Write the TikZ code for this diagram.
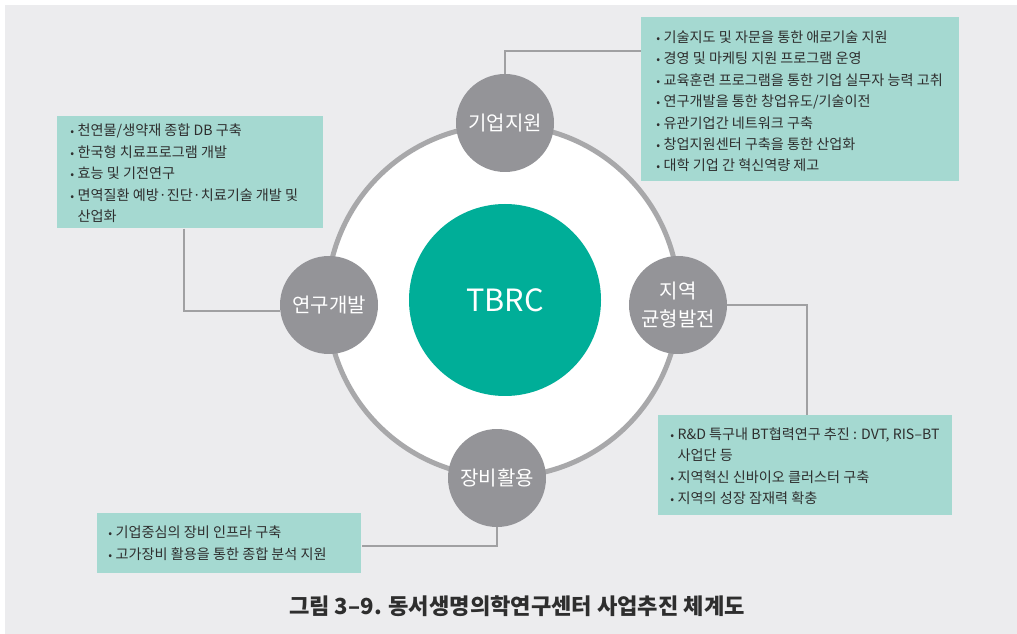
\documentclass[tikz,border=0pt]{standalone}
\usepackage{fontspec}
\setmainfont{Noto Sans CJK KR}
\usetikzlibrary{calc}
\definecolor{bgc}{HTML}{ECECEE}
\definecolor{boxc}{HTML}{A5D9D1}
\definecolor{cgray}{HTML}{949498}
\definecolor{ringc}{HTML}{A8A8AA}
\definecolor{tealc}{HTML}{00AE98}
\definecolor{linec}{HTML}{A0A0A2}
\definecolor{txtc}{HTML}{2E2E2E}
\newcommand\itm{\makebox[5.6pt][l]{\scalebox{0.8}{•}}}
\newcommand\cnt{\hspace*{5.6pt}}
\begin{document}
\begin{tikzpicture}[x=0.75pt,y=-0.75pt,
  box/.style={rectangle, fill=boxc, inner sep=0pt, anchor=north west},
  boxtext/.style={anchor=west, align=left, inner sep=0pt, text=txtc, font=\fontsize{10.6pt}{16.1pt}\selectfont},
  sc/.style={circle, fill=cgray, minimum size=73.5pt, inner sep=0pt, text=white, align=center, font=\fontsize{15pt}{21.7pt}\selectfont},
  conn/.style={draw=linec, line width=1.2pt}]
\useasboundingbox (0,0) rectangle (1017,634);
\fill[white] (0,0) rectangle (1017,634);
\fill[bgc] (5,5) rectangle (1017,634);

% boxes
\node[box, minimum width=238.5pt, minimum height=123pt] (tr) at (641,17) {};
\node[boxtext] (trt) at ($(tr.west)+(15,2)$) {\itm 기술지도 및 자문을 통한 애로기술 지원\\
\itm 경영 및 마케팅 지원 프로그램 운영\\
\itm 교육훈련 프로그램을 통한 기업 실무자 능력 고취\\
\itm 연구개발을 통한 창업유도/기술이전\\
\itm 유관기업간 네트워크 구축\\
\itm 창업지원센터 구축을 통한 산업화\\
\itm 대학 기업 간 혁신역량 제고};

\node[box, minimum width=199.5pt, minimum height=84pt] (lb) at (57,116) {};
\node[boxtext] (lbt) at ($(lb.west)+(13,1)$) {\itm 천연물/생약재 종합 DB 구축\\
\itm 한국형 치료프로그램 개발\\
\itm 효능 및 기전연구\\
\itm 면역질환 예방·진단·치료기술 개발 및\\
\cnt 산업화};

\node[box, minimum width=220.5pt, minimum height=75pt] (br) at (658,415) {};
\node[boxtext] (brt) at ($(br.west)+(12,1)$) {\itm R\&D 특구내 BT협력연구 추진 : DVT, RIS–BT\\
\cnt 사업단 등\\
\itm 지역혁신 신바이오 클러스터 구축\\
\itm 지역의 성장 잠재력 확충};

\node[box, minimum width=198pt, minimum height=45pt] (bl) at (97,513) {};
\node[boxtext] (blt) at ($(bl.west)+(11,0)$) {\itm 기업중심의 장비 인프라 구축\\
\itm 고가장비 활용을 통한 종합 분석 지원};

% ring and centre
\node[circle, draw=ringc, line width=3.75pt, fill=white, minimum size=264pt, inner sep=0pt] (ring) at (503,301) {};
\node[circle, fill=tealc, minimum size=144pt, inner sep=0pt, text=white, font=\fontsize{23pt}{24pt}\selectfont] (tbrc) at (505,300) {TBRC};

% small circles
\node[sc] (c1) at (505,123) {기업지원};
\node[sc] (c2) at (329,305) {연구개발};
\node[sc] (c3) at (678,305) {지역\\균형발전};
\node[sc] (c4) at (497,478) {장비활용};

% connectors
\coordinate (k1) at ($(tr.north west)+(0,34)$);
\coordinate (k2) at ($(lb.south west)+(127,0)$);
\coordinate (k3) at ($(br.north west)+(149,0)$);
\coordinate (k4) at ($(bl.north east)+(0,33)$);
\draw[conn] (c1.north) |- (k1);
\draw[conn] (k2) |- (c2.187);
\draw[conn] (c3.east) -| (k3);
\draw[conn] (c4.south) |- (k4);

% caption
\node[text=txtc, font=\bfseries\fontsize{16.6pt}{18pt}\selectfont, inner sep=0pt] (cap) at (517,606) {그림 3–9. 동서생명의학연구센터 사업추진 체계도};
\end{tikzpicture}
\end{document}
